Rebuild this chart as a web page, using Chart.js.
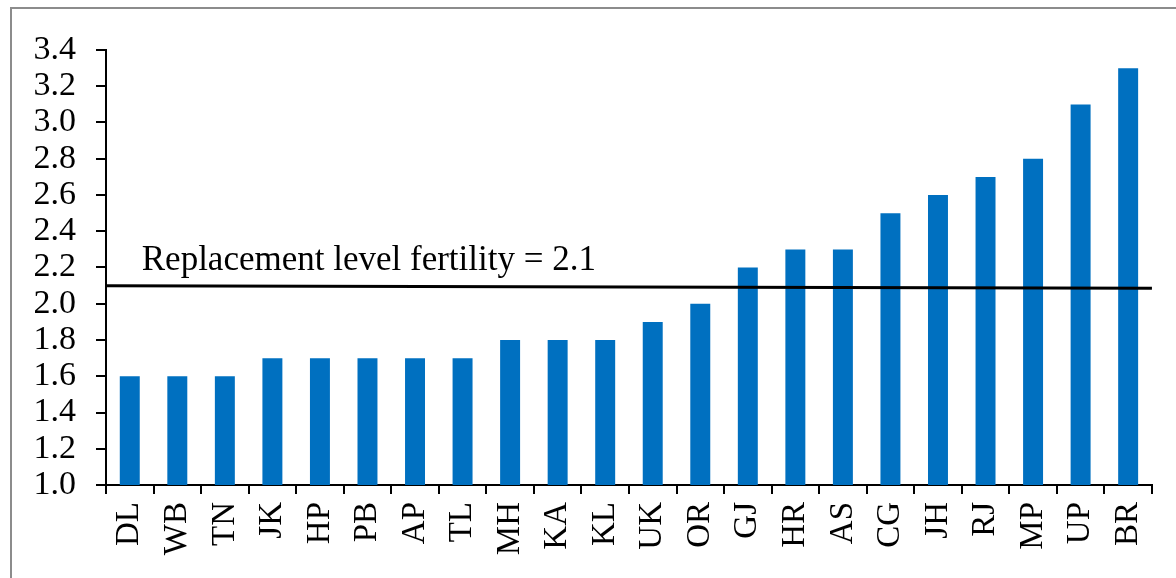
<!DOCTYPE html>
<html>
<head>
<meta charset="utf-8">
<script src="https://cdn.jsdelivr.net/npm/chart.js@4/dist/chart.umd.min.js"></script>
<style>
  html, body { margin: 0; padding: 0; background: #fff; }
  #wrap { position: relative; width: 1176px; height: 578px; }
  #frame { position: absolute; left: 10px; top: 7px; right: -10px; bottom: -10px;
           border-left: 2px solid #8c8c8c; border-top: 2px solid #8c8c8c; }
  canvas { position: absolute; left: 0; top: 0; }
</style>
</head>
<body>
<div id="wrap">
  <div id="frame"></div>
  <canvas id="chart" width="1176" height="578"></canvas>
</div>
<script>
const states = ['DL', 'WB', 'TN', 'JK', 'HP', 'PB', 'AP', 'TL', 'MH', 'KA', 'KL',
  'UK', 'OR', 'GJ', 'HR', 'AS', 'CG', 'JH', 'RJ', 'MP', 'UP', 'BR'];
const tfr = [1.6, 1.6, 1.6, 1.7, 1.7, 1.7, 1.7, 1.7, 1.8, 1.8, 1.8,
  1.9, 2.0, 2.2, 2.3, 2.3, 2.5, 2.6, 2.7, 2.8, 3.1, 3.3];
// replacement line as drawn: starts at 2.1, ends slightly lower
const replacementLine = [2.1, 2.085];
const replacementLabel = 'Replacement level fertility = 2.1';

const serif = '"Liberation Serif", "Times New Roman", serif';

const replacementPlugin = {
  id: 'replacement',
  afterDatasetsDraw(chart) {
    const { ctx, chartArea, scales } = chart;
    const y0 = scales.y.getPixelForValue(replacementLine[0]);
    const y1 = scales.y.getPixelForValue(replacementLine[1]);
    ctx.save();
    ctx.strokeStyle = '#000';
    ctx.lineWidth = 3;
    ctx.beginPath();
    ctx.moveTo(chartArea.left, y0);
    ctx.lineTo(chartArea.right, y1);
    ctx.stroke();
    ctx.fillStyle = '#000';
    ctx.font = '35px ' + serif;
    ctx.textBaseline = 'alphabetic';
    ctx.fillText(replacementLabel, scales.x.getPixelForValue(0) + 12, y0 - 16);
    ctx.restore();
  },
};

new Chart(document.getElementById('chart'), {
  type: 'bar',
  data: {
    labels: states,
    datasets: [
      {
        label: 'TFR',
        data: tfr,
        backgroundColor: '#0070c0',
        categoryPercentage: 1,
        barPercentage: 0.42,
      },
    ],
  },
  options: {
    responsive: false,
    animation: false,
    devicePixelRatio: 1,
    layout: { padding: { top: 50, right: 11, bottom: 0, left: 0 } },
    plugins: {
      legend: { display: false },
      tooltip: { enabled: false },
    },
    scales: {
      x: {
        grid: {
          offset: true,
          drawOnChartArea: false,
          color: '#000',
          tickLength: 9,
          lineWidth: 2,
        },
        border: { color: '#000', width: 2 },
        ticks: {
          color: '#000',
          font: { family: serif, size: 33 },
          maxRotation: 90,
          minRotation: 90,
          autoSkip: false,
          padding: 8,
        },
        afterFit(scale) { scale.height = 93; },
      },
      y: {
        min: 1.0,
        max: 3.4,
        grid: {
          drawOnChartArea: false,
          color: '#000',
          tickLength: 10,
          lineWidth: 2,
        },
        border: { color: '#000', width: 2 },
        ticks: {
          stepSize: 0.2,
          autoSkip: false,
          color: '#000',
          font: { family: serif, size: 34 },
          padding: 20,
          callback: (v) => v.toFixed(1),
        },
        afterFit(scale) { scale.width = 106; },
      },
    },
  },
  plugins: [replacementPlugin],
});
</script>
</body>
</html>
